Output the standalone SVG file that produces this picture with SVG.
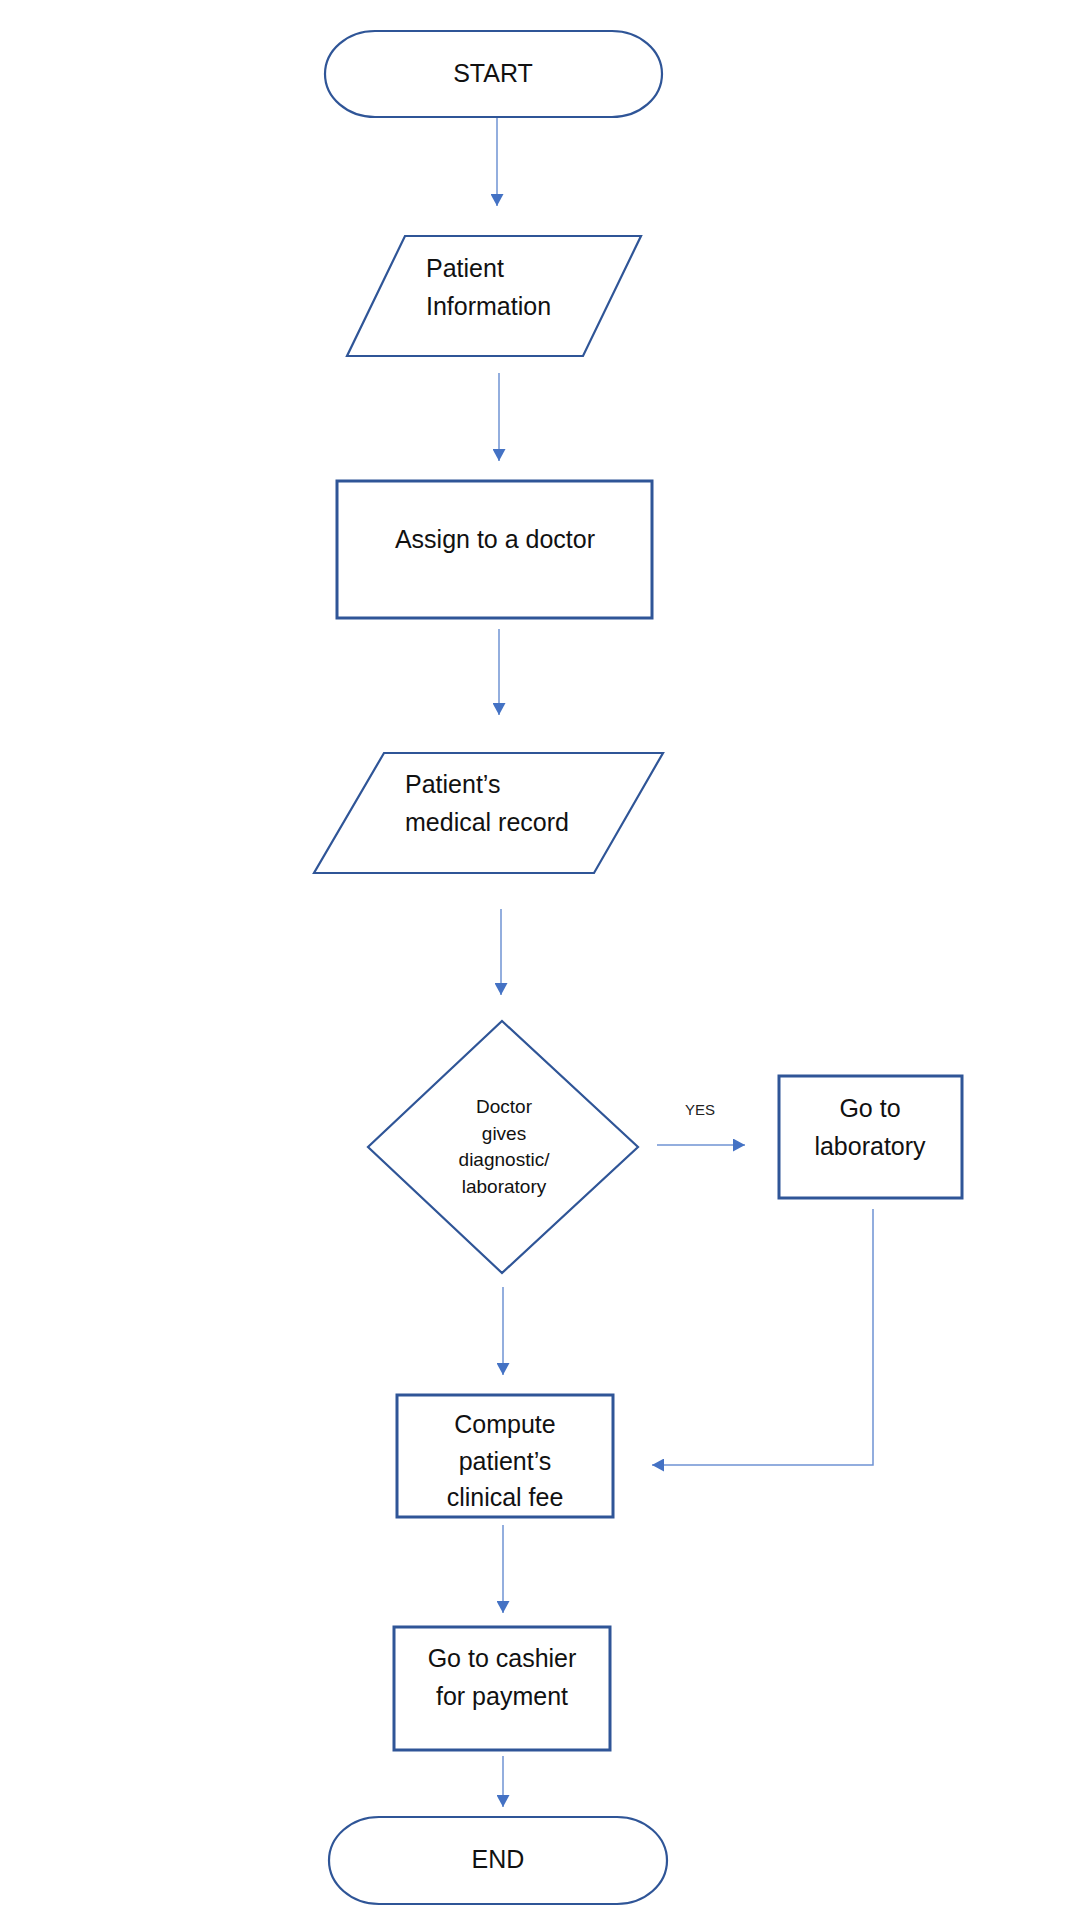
<svg xmlns="http://www.w3.org/2000/svg" width="1080" height="1920" viewBox="0 0 1080 1920">
  <style>
    .shape { fill: #ffffff; stroke: #2F5597; stroke-width: 2.2; }
    .box { fill: #ffffff; stroke: #2F5597; stroke-width: 3; }
    .lbl { font-family: "Liberation Sans", Arial, sans-serif; font-size: 25px; fill: #111111; }
    .mid { text-anchor: middle; }
    .small { font-size: 19px; }
    .tiny { font-size: 15px; fill: #222222; }
    .conn { fill: none; stroke: #6F93D3; stroke-width: 1.5; marker-end: url(#arrow); }
  </style>
  <defs>
    <marker id="arrow" markerUnits="userSpaceOnUse" markerWidth="13" markerHeight="13" refX="12" refY="6.5" orient="auto">
      <path d="M0,0 L12,6.5 L0,13 Z" fill="#4472C4"/>
    </marker>
  </defs>
  <rect width="1080" height="1920" fill="#ffffff"/>

  <g id="connectors">
    <line class="conn" x1="497" y1="118" x2="497" y2="206"/>
    <line class="conn" x1="499" y1="373" x2="499" y2="461"/>
    <line class="conn" x1="499" y1="629" x2="499" y2="715"/>
    <line class="conn" x1="501" y1="909" x2="501" y2="995"/>
    <line class="conn" x1="657" y1="1145" x2="745" y2="1145"/>
    <line class="conn" x1="503" y1="1287" x2="503" y2="1375"/>
    <path class="conn" d="M873 1209 V1465 H652"/>
    <line class="conn" x1="503" y1="1525" x2="503" y2="1613"/>
    <line class="conn" x1="503" y1="1756" x2="503" y2="1807"/>
    <text class="lbl tiny mid" x="700" y="1115">YES</text>
  </g>

  <g id="start">
    <rect class="shape" x="325" y="31" width="337" height="86" rx="50" ry="43"/>
    <text class="lbl mid" x="493" y="82">START</text>
  </g>

  <g id="patient-information">
    <polygon class="shape" points="405,236 641,236 583,356 347,356"/>
    <text class="lbl" x="426" y="277">Patient</text>
    <text class="lbl" x="426" y="315">Information</text>
  </g>

  <g id="assign-doctor">
    <rect class="box" x="337" y="481" width="315" height="137"/>
    <text class="lbl mid" x="495" y="548">Assign to a doctor</text>
  </g>

  <g id="medical-record">
    <polygon class="shape" points="384,753 663,753 594,873 314,873"/>
    <text class="lbl" x="405" y="793">Patient’s</text>
    <text class="lbl" x="405" y="831">medical record</text>
  </g>

  <g id="decision">
    <polygon class="shape" points="502,1021 638,1147 502,1273 368,1147"/>
    <text class="lbl small mid" x="504" y="1113">Doctor</text>
    <text class="lbl small mid" x="504" y="1140">gives</text>
    <text class="lbl small mid" x="504" y="1166">diagnostic/</text>
    <text class="lbl small mid" x="504" y="1193">laboratory</text>
  </g>

  <g id="laboratory">
    <rect class="box" x="779" y="1076" width="183" height="122"/>
    <text class="lbl mid" x="870" y="1117">Go to</text>
    <text class="lbl mid" x="870" y="1155">laboratory</text>
  </g>

  <g id="compute-fee">
    <rect class="box" x="397" y="1395" width="216" height="122"/>
    <text class="lbl mid" x="505" y="1433">Compute</text>
    <text class="lbl mid" x="505" y="1470">patient’s</text>
    <text class="lbl mid" x="505" y="1506">clinical fee</text>
  </g>

  <g id="cashier">
    <rect class="box" x="394" y="1627" width="216" height="123"/>
    <text class="lbl mid" x="502" y="1667">Go to cashier</text>
    <text class="lbl mid" x="502" y="1705">for payment</text>
  </g>

  <g id="end">
    <rect class="shape" x="329" y="1817" width="338" height="87" rx="50" ry="43.5"/>
    <text class="lbl mid" x="498" y="1868">END</text>
  </g>
</svg>
